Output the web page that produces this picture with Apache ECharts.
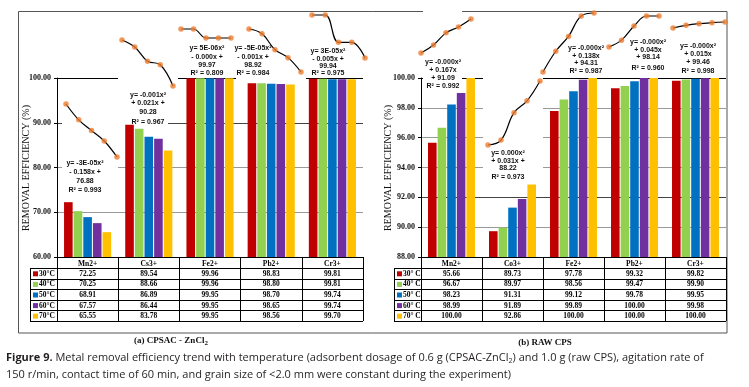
<!DOCTYPE html>
<html><head><meta charset="utf-8">
<script src="https://cdn.jsdelivr.net/npm/echarts@6/dist/echarts.min.js"></script>
<style>html,body{margin:0;padding:0;background:#fff}#c{width:749px;height:387px}</style>
</head><body><div id="c"></div>
<script>
// ---------- DATA ----------
const temps = [30, 40, 50, 60, 70];
const metalsA = ['Mn2+', 'Cs3+', 'Fe2+', 'Pb2+', 'Cr3+'];
const metalsB = ['Mn2+', 'Co3+', 'Fe2+', 'Pb2+', 'Cr3+'];
const legendA = ['30°C', '40°C', '50°C', '60°C', '70°C'];
const legendB = ['30° C', '40° C', '50° C', '60° C', '70° C'];
// (a) CPSAC - ZnCl2
const cpsac30 = [72.25, 89.54, 99.96, 98.83, 99.81];
const cpsac40 = [70.25, 88.66, 99.96, 98.80, 99.81];
const cpsac50 = [68.91, 86.89, 99.95, 98.70, 99.74];
const cpsac60 = [67.57, 86.44, 99.95, 98.65, 99.74];
const cpsac70 = [65.55, 83.78, 99.95, 98.56, 99.70];
// (b) RAW CPS
const raw30 = [95.66, 89.73, 97.78, 99.32, 99.82];
const raw40 = [96.67, 89.97, 98.56, 99.47, 99.90];
const raw50 = [98.23, 91.31, 99.12, 99.78, 99.95];
const raw60 = [98.99, 91.89, 99.89, 100.00, 99.98];
const raw70 = [100.00, 92.86, 100.00, 100.00, 100.00];
// trendline equations
const eqA = [
  ['y= -3E-05x²', '- 0.158x +', '76.88', 'R² = 0.993'],
  ['y= -0.001x²', '+ 0.021x +', '90.28', 'R² = 0.967'],
  ['y= 5E-06x²', '- 0.000x +', '99.97', 'R² = 0.809'],
  ['y= -5E-05x²', '- 0.001x +', '98.92', 'R² = 0.984'],
  ['y= 3E-05x²', '- 0.005x +', '99.94', 'R² = 0.975']
];
const eqB = [
  ['y= -0.000x²', '+ 0.167x', '+ 91.09', 'R² = 0.992'],
  ['y= 0.000x²', '+ 0.031x +', '88.22', 'R² = 0.973'],
  ['y= -0.000x²', '+ 0.138x', '+ 94.31', 'R² = 0.987'],
  ['y= -0.000x²', '+ 0.045x', '+ 98.14', 'R² = 0.960'],
  ['y= -0.000x²', '+ 0.015x', '+ 99.46', 'R² = 0.998']
];
const yTicksA = [60, 100, 10];
const yTicksB = [88, 100, 2];
const subA = '(a) CPSAC - ZnCl{s|2}';
const subB = '(b) RAW CPS';
const yName = 'REMOVAL EFFICIENCY (%)';
const caption = '{b|Figure 9.} Metal removal efficiency trend with temperature (adsorbent dosage of 0.6 g (CPSAC-ZnCl{s|2}) and 1.0 g (raw CPS), agitation rate of\n150 r/min, contact time of 60 min, and grain size of <2.0 mm were constant during the experiment)';

// ---------- STYLE / LAYOUT ----------
const COLORS = ['#C00000', '#92D050', '#0070C0', '#7030A0', '#FFC000'];
const SERIF = 'Liberation Serif, Times New Roman, serif';
const SANS = 'Liberation Sans, Arial, sans-serif';
const CAP = 'Open Sans, sans-serif';
const headTop = 257, rowTop = 268, rowH = 10.6;
const tableBottom = rowTop + 5 * rowH;

const panels = [
  {
    cats: metalsA, rows: [cpsac30, cpsac40, cpsac50, cpsac60, cpsac70], legend: legendA, eq: eqA, ticks: yTicksA,
    grid: { left: 57, top: 78, width: 306, height: 179 },
    split: ['#999', '#999', '#999', '#444', '#000'],
    legendLeft: 30, nameX: 26,
    insets: [[66, 117, 104, 157], [122, 173, 40, 86], [181, 231, 29, 38], [249, 301, 29, 72], [312, 365, 15, 58]],
    eqPos: [[85, 163, 172, 181, 190], [148, 95, 103, 112, 122], [207, 48, 57, 65, 73], [253, 48, 57, 65, 73], [328, 51, 59, 66, 73]],
    boxes: [[62, 92, 56, 104], [118, 30, 60, 88], [118, 118, 50, 8], [236, 20, 70, 61]],
    sub: subA, subPos: [171, 341]
  },
  {
    cats: metalsB, rows: [raw30, raw40, raw50, raw60, raw70], legend: legendB, eq: eqB, ticks: yTicksB,
    grid: { left: 421, top: 78, width: 305, height: 179 },
    split: ['#999', '#999', '#444', '#999', '#999', '#999', '#000'],
    legendLeft: 394, nameX: 388,
    insets: [[421, 471, 19, 53], [488, 540, 81, 145], [543, 594, 13, 72], [609, 659, 16, 47], [673, 725, 22, 28]],
    eqPos: [[443, 62, 70, 78, 86], [508, 153, 161, 168, 177], [586, 48, 56, 63, 71], [648, 42, 50, 57, 68], [698, 46, 54, 62, 71]],
    boxes: [[423, 10, 39, 85], [483, 60, 60, 125]],
    sub: subB, subPos: [545, 343]
  }
];

const chart = echarts.init(document.getElementById('c'));
const grid = [], xAxis = [], yAxis = [], series = [];

panels.forEach((p, pi) => {
  grid.push(Object.assign({ outerBoundsMode: 'none', containLabel: false }, p.grid));
  xAxis.push({
    type: 'category', gridIndex: pi, data: p.cats,
    axisLine: { lineStyle: { color: '#000', width: 1 } },
    axisTick: { show: true, length: tableBottom - headTop, lineStyle: { color: '#000', width: 1 } },
    axisLabel: { fontFamily: SERIF, fontWeight: 'bold', fontSize: 7.5, color: '#000', margin: 3, interval: 0 },
    splitLine: { show: false }
  });
  yAxis.push({
    type: 'value', gridIndex: pi, min: p.ticks[0], max: p.ticks[1], interval: p.ticks[2],
    axisLine: { show: true, lineStyle: { color: '#000', width: 1 } },
    axisTick: { show: true, length: 3, lineStyle: { color: '#000' } },
    axisLabel: { formatter: v => v.toFixed(2), fontFamily: SERIF, fontWeight: 'bold', fontSize: 8, color: '#111', margin: 6 },
    splitLine: { show: true, lineStyle: { color: p.split, width: 1 } }
  });
  p.rows.forEach((row, ti) => {
    series.push({
      type: 'bar', xAxisIndex: pi, yAxisIndex: pi, data: row, name: p.legend[ti],
      itemStyle: { color: COLORS[ti] }, barGap: '12%', barCategoryGap: '23%', z: 2
    });
  });
});

panels.forEach((p) => {
  p.cats.forEach((c, mi) => {
    const [x1, x2, yt, yb] = p.insets[mi];
    const gi = grid.length;
    grid.push({ outerBoundsMode: 'none', left: x1, top: yt, width: x2 - x1, height: Math.max(yb - yt, 1), show: false });
    xAxis.push({ type: 'value', gridIndex: gi, min: 30, max: 70, show: false });
    yAxis.push({ type: 'value', gridIndex: gi, min: 'dataMin', max: 'dataMax', scale: true, show: false });
    const pts = temps.map((t, ti) => [t, p.rows[ti][mi]]);
    series.push({
      type: 'line', xAxisIndex: gi, yAxisIndex: gi, data: pts, smooth: 0.4, symbol: 'none',
      lineStyle: { color: '#000', width: 1.2 }, z: 3, clip: false, silent: true
    });
    series.push({
      type: 'scatter', xAxisIndex: gi, yAxisIndex: gi, data: pts, symbolSize: 5.5,
      itemStyle: { color: '#ED7D31' }, z: 4, clip: false, silent: true
    });
  });
});

chart.setOption({ animation: false, backgroundColor: '#fff', grid, xAxis, yAxis, series });

// ---------- TABLES, TEXTS ----------
const g = [];
g.push({ type: 'rect', z: 0, shape: { x: 18.5, y: 11.5, width: 708.5, height: 321.5 }, style: { fill: 'none', stroke: '#555', lineWidth: 1 } });
panels.forEach((p, pi) => {
  p.boxes.forEach(b => g.push({ type: 'rect', z: 1, shape: { x: b[0], y: b[1], width: b[2], height: b[3] }, style: { fill: '#fff' } }));
  const right = p.grid.left + p.grid.width;
  for (let r = 0; r <= 5; r++) {
    const y = Math.round(rowTop + r * rowH) + 0.5;
    g.push({ type: 'line', z: 10, shape: { x1: p.legendLeft, y1: y, x2: right, y2: y }, style: { stroke: '#000', lineWidth: 1 } });
  }
  g.push({ type: 'line', z: 10, shape: { x1: p.legendLeft + 0.5, y1: rowTop, x2: p.legendLeft + 0.5, y2: tableBottom }, style: { stroke: '#000', lineWidth: 1 } });
  p.rows.forEach((row, ti) => {
    const y = rowTop + (ti + 0.5) * rowH + 0.5;
    g.push({ type: 'rect', z: 10, shape: { x: p.legendLeft + 3, y: y - 2.5, width: 5, height: 5 }, style: { fill: COLORS[ti] } });
    g.push({ type: 'text', z: 10, x: p.legendLeft + 9, y: y, style: { text: p.legend[ti], font: 'bold 7.5px ' + SERIF, fill: '#000', textVerticalAlign: 'middle', textAlign: 'left' } });
    row.forEach((v, mi) => {
      const x = chart.convertToPixel({ xAxisIndex: pi }, mi);
      g.push({ type: 'text', z: 10, x: x, y: y, style: { text: v.toFixed(2), font: 'bold 7.5px ' + SERIF, fill: '#000', textVerticalAlign: 'middle', textAlign: 'center' } });
    });
  });
  p.eq.forEach((lines, mi) => {
    const pos = p.eqPos[mi];
    lines.forEach((t, li) => {
      g.push({ type: 'text', z: 12, x: pos[0], y: pos[li + 1], style: { text: t, font: 'bold 7px ' + SANS, fill: '#111', textVerticalAlign: 'middle', textAlign: 'center' } });
    });
  });
  g.push({ type: 'text', z: 10, x: p.nameX, y: 168, rotation: Math.PI / 2, style: { text: yName, font: '10px ' + SERIF, fill: '#111', textVerticalAlign: 'middle', textAlign: 'center' } });
  g.push({ type: 'text', z: 10, x: p.subPos[0], y: p.subPos[1], style: { text: p.sub, font: 'bold 9px ' + SERIF, fill: '#111', textVerticalAlign: 'middle', textAlign: 'center',
    rich: { s: { fontSize: 7, fontWeight: 'bold', fontFamily: SERIF, padding: [5, 0, 0, 0] } } } });
});
g.push({ type: 'text', z: 10, x: 6, y: 349, style: { text: caption, fontFamily: CAP, fontSize: 11, fill: '#231f20', lineHeight: 17, textVerticalAlign: 'top', textAlign: 'left',
  rich: { b: { fontWeight: 'bold', fontFamily: CAP, fontSize: 11, lineHeight: 17 }, s: { fontSize: 7, fontFamily: CAP, padding: [6, 0, 0, 0], lineHeight: 17 } } } });

chart.setOption({ graphic: { elements: g } });
</script></body></html>
